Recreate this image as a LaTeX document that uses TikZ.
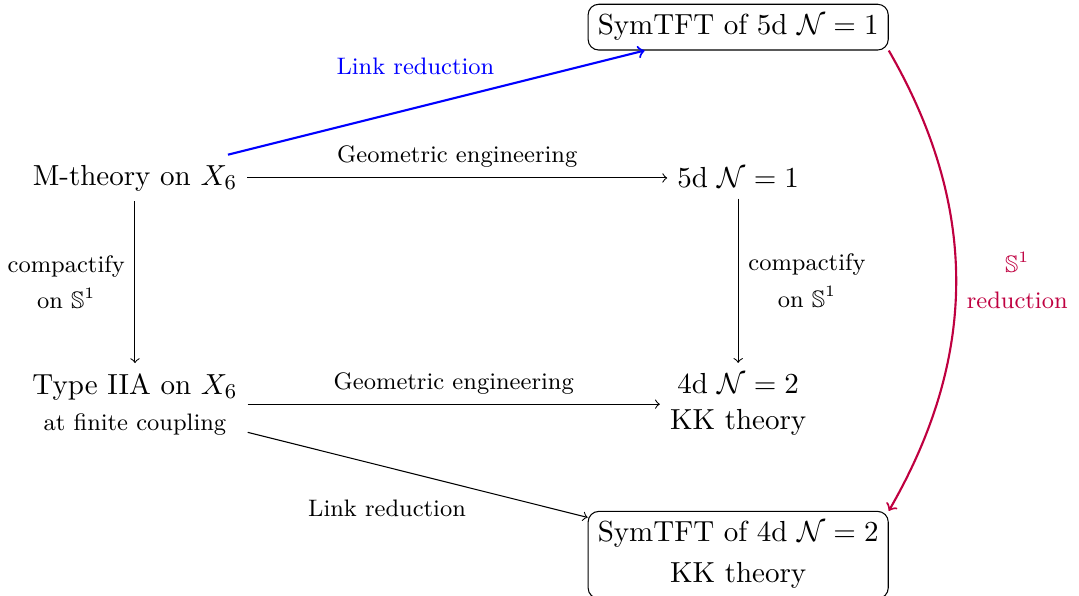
\documentclass[11pt,tikz,border=0pt]{standalone}
\usepackage{amssymb}
\begin{document}
\begin{tikzpicture}[sym/.style={draw, rounded corners, align=center}, lbl/.style={font=\fontsize{9}{13.6}\selectfont, align=center}]
		\useasboundingbox (-1.79,-5.544) rectangle (12.52,2.36);
		\node (mth) at (0,0) {M-theory on $ X_6 $};
		\node (fived) at (8,0) {5d $ \mathcal{N}=1 $};
		\node (iia)[align=center] at (0,-3) {Type IIA on $ X_6 $\\ {\footnotesize at finite coupling}};
		\node (fourd)[align=center] at (8,-3) {4d $ \mathcal{N}=2 $\\ KK theory};
		\node (symfive)[sym] at (8,2) {SymTFT of 5d $ \mathcal{N}=1 $};
		\node (symfour)[sym] at (8,-5) {SymTFT of 4d $ \mathcal{N}=2 $\\[2pt] KK theory};

		\draw [->](mth) -- node [lbl, midway, above]{Geometric engineering} (fived);
		\draw [->](iia) -- node [lbl, midway, above]{Geometric engineering} (fourd);
		\draw [->](mth) -- node [lbl, midway, left]{compactify\\ on $ \mathbb{S}^1 $} (iia);
		\draw [->](fived) -- node [lbl, midway, right]{compactify\\ on $ \mathbb{S}^1 $} (fourd);

		\draw [->, thick, blue](mth) -- node [lbl, pos=0.45, above=3mm]{Link reduction} (symfive);
		\draw [->](iia) -- node [lbl, pos=0.41, below=3mm]{Link reduction} (symfour);
		\draw [->, thick, purple](symfive.south east) to[bend left] node [lbl, midway, right]{$ \mathbb{S}^1 $\\ reduction} (symfour.north east);
	\end{tikzpicture}
\end{document}
